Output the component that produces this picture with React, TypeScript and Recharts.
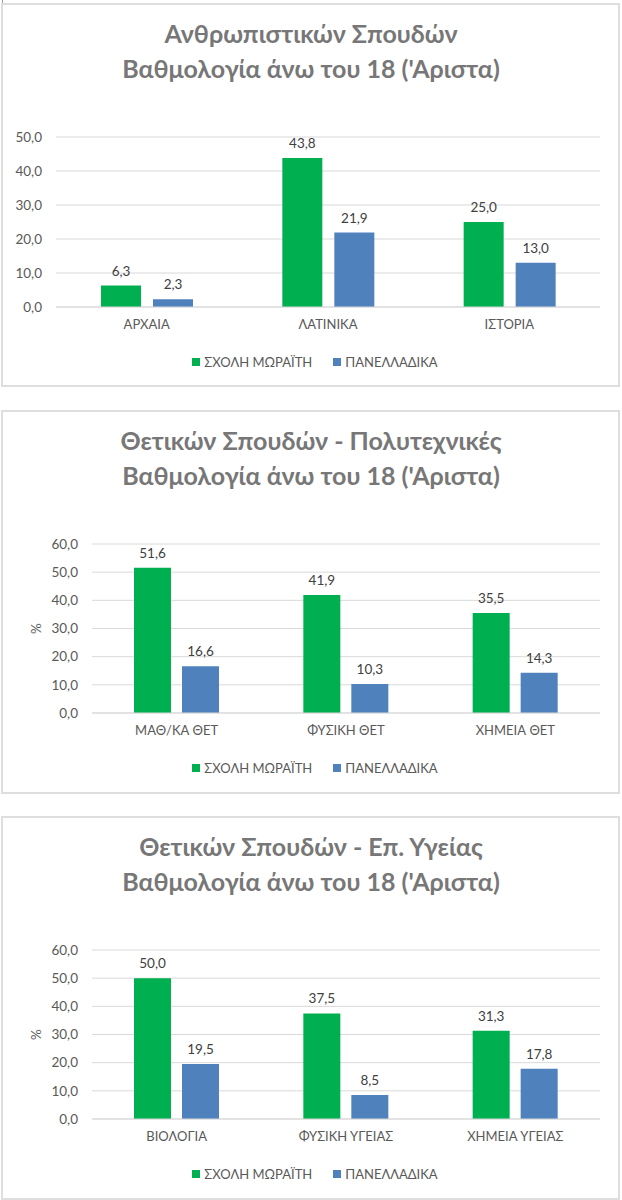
import React from 'react';
import { BarChart, Bar, XAxis, YAxis, CartesianGrid, Legend, LabelList } from 'recharts';

const seriesNames = ['ΣΧΟΛΗ ΜΩΡΑΪΤΗ', 'ΠΑΝΕΛΛΑΔΙΚΑ'];
const seriesColors = ['#00B050', '#4F81BD'];

const titles1 = ['Ανθρωπιστικών Σπουδών', "Βαθμολογία άνω του 18 ('Αριστα)"];
const categories1 = ['ΑΡΧΑΙΑ', 'ΛΑΤΙΝΙΚΑ', 'ΙΣΤΟΡΙΑ'];
const school1 = [6.3, 43.8, 25.0];
const national1 = [2.3, 21.9, 13.0];
const ticks1 = [0, 10, 20, 30, 40, 50];

const titles2 = ['Θετικών Σπουδών - Πολυτεχνικές', "Βαθμολογία άνω του 18 ('Αριστα)"];
const categories2 = ['ΜΑΘ/ΚΑ ΘΕΤ', 'ΦΥΣΙΚΗ ΘΕΤ', 'ΧΗΜΕΙΑ ΘΕΤ'];
const school2 = [51.6, 41.9, 35.5];
const national2 = [16.6, 10.3, 14.3];
const ticks2 = [0, 10, 20, 30, 40, 50, 60];

const titles3 = ['Θετικών Σπουδών - Επ. Υγείας', "Βαθμολογία άνω του 18 ('Αριστα)"];
const categories3 = ['ΒΙΟΛΟΓΙΑ', 'ΦΥΣΙΚΗ ΥΓΕΙΑΣ', 'ΧΗΜΕΙΑ ΥΓΕΙΑΣ'];
const school3 = [50.0, 37.5, 31.3];
const national3 = [19.5, 8.5, 17.8];
const ticks3 = [0, 10, 20, 30, 40, 50, 60];

const FONT = 'Lato, Carlito, Calibri, "Open Sans", sans-serif';
const fmt = (v: any) => Number(v).toFixed(1).replace('.', ',');

const LegendContent = () => (
  <div style={{ display: 'flex', justifyContent: 'center', alignItems: 'center', height: 30, paddingLeft: 8, fontFamily: FONT, fontSize: 13, color: '#595959' }}>
    {seriesNames.map((n, i) => (
      <div key={n} style={{ display: 'flex', alignItems: 'center', marginRight: i === 0 ? 21 : 0 }}>
        <span style={{ display: 'inline-block', width: 8, height: 8, background: seriesColors[i], marginRight: 4 }} />
        <span>{n}</span>
      </div>
    ))}
  </div>
);

type PanelProps = {
  top: number;
  titles: string[];
  categories: string[];
  school: number[];
  national: number[];
  ticks: number[];
  yWidth: number;
  plotBottom: number;
  barSize: number;
  barGap: number;
  percent: boolean;
};

const Panel = ({ top, titles, categories, school, national, ticks, yWidth, plotBottom, barSize, barGap, percent }: PanelProps) => {
  const data = categories.map((c, i) => ({ name: c, school: school[i], national: national[i] }));
  const H = 382;
  const mb = H - plotBottom - 70;
  return (
    <div style={{ position: 'absolute', left: 0, top, width: 622, height: H }}>
      <div style={{ position: 'absolute', left: 1, top: -1, width: 619, height: 384, border: '2px solid #dedede', boxSizing: 'border-box' }} />
      <div style={{ position: 'absolute', left: 0, top: 12, width: 622, textAlign: 'center', fontFamily: FONT, fontWeight: 700, fontSize: 25, lineHeight: '35px', color: '#777777' }}>
        {titles.map((t) => (
          <div key={t}>{t}</div>
        ))}
      </div>
      <div style={{ position: 'absolute', left: 0, top: 0 }}>
        <BarChart width={622} height={H} data={data} margin={{ top: 133, right: 22, left: 0, bottom: mb }} barGap={barGap} barSize={barSize}>
          <CartesianGrid vertical={false} stroke="#D9D9D9" />
          <XAxis
            dataKey="name"
            height={40}
            tickLine={false}
            axisLine={{ stroke: '#D9D9D9' }}
            tickSize={0}
            tickMargin={13}
            tick={{ fill: '#595959', fontSize: 13, fontFamily: FONT }}
          />
          <YAxis
            width={yWidth}
            domain={[0, ticks[ticks.length - 1]]}
            ticks={ticks}
            interval={0}
            tickFormatter={fmt}
            axisLine={false}
            tickLine={false}
            tickSize={0}
            tickMargin={14}
            tick={{ fill: '#595959', fontSize: 13.5, fontFamily: FONT }}
            label={
              percent
                ? {
                    value: '%',
                    content: (p: any) => {
                      const vb = p.viewBox || {};
                      const x = (vb.x || 0) + 36;
                      const y = (vb.y || 0) + (vb.height || 0) / 2;
                      return (
                        <text x={x} y={y} transform={`rotate(-90, ${x}, ${y})`} textAnchor="middle" dominantBaseline="central" fill="#595959" fontSize={13.5} fontFamily={FONT}>
                          %
                        </text>
                      );
                    },
                  }
                : undefined
            }
          />
          <Legend verticalAlign="bottom" content={<LegendContent />} wrapperStyle={{ left: 0, width: 622 }} />
          <Bar dataKey="school" name={seriesNames[0]} fill={seriesColors[0]} isAnimationActive={false}>
            <LabelList dataKey="school" position="top" offset={10} formatter={fmt} fill="#404040" fontSize={13.5} fontFamily={FONT} />
          </Bar>
          <Bar dataKey="national" name={seriesNames[1]} fill={seriesColors[1]} isAnimationActive={false}>
            <LabelList dataKey="national" position="top" offset={10} formatter={fmt} fill="#404040" fontSize={13.5} fontFamily={FONT} />
          </Bar>
        </BarChart>
      </div>
    </div>
  );
};

export default function App() {
  return (
    <div style={{ position: 'absolute', left: 0, top: 0, width: 622, height: 1200, background: '#fff', overflow: 'hidden' }}>
      <div style={{ position: 'absolute', left: 2, top: 0, width: 1, height: 4, background: '#9a9a9a' }} />
      <Panel top={4} titles={titles1} categories={categories1} school={school1} national={national1} ticks={ticks1} yWidth={56} plotBottom={303} barSize={40} barGap={12} percent={false} />
      <Panel top={411} titles={titles2} categories={categories2} school={school2} national={national2} ticks={ticks2} yWidth={92} plotBottom={302} barSize={37} barGap={11} percent={true} />
      <Panel top={817} titles={titles3} categories={categories3} school={school3} national={national3} ticks={ticks3} yWidth={92} plotBottom={302} barSize={37} barGap={11} percent={true} />
    </div>
  );
}
